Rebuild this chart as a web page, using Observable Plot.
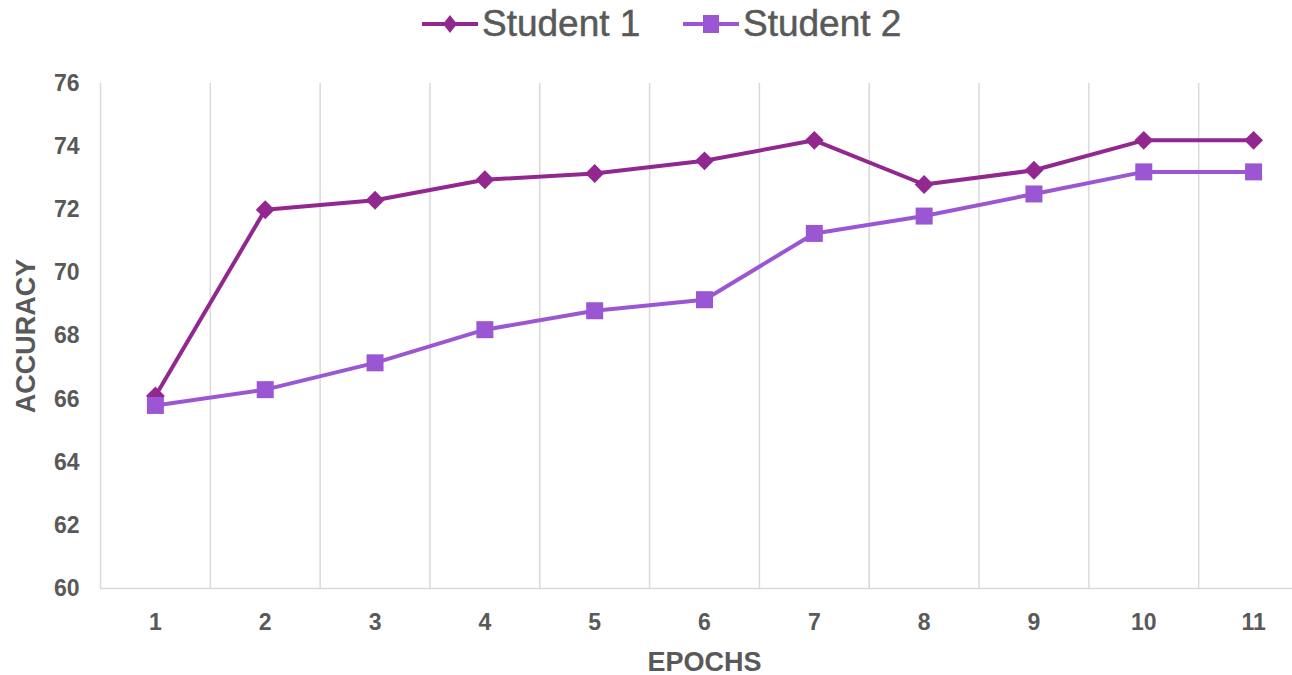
<!DOCTYPE html>
<html>
<head>
<meta charset="utf-8">
<script src="https://cdn.jsdelivr.net/npm/d3@7"></script>
<script src="https://cdn.jsdelivr.net/npm/@observablehq/plot@0.6"></script>
<style>
  html, body { margin: 0; padding: 0; background: #fff; }
  body { width: 1292px; height: 675px; overflow: hidden; position: relative; font-family: "Liberation Sans", Arial, sans-serif; }
  #legend { position: absolute; left: 0; top: 0; width: 1292px; height: 50px; }
  .item { position: absolute; top: 0; height: 48px; display: flex; align-items: center; font-size: 37px; color: #595959; -webkit-text-stroke: 0.5px #595959; }
  .item svg { margin-right: 4px; }
  #chart { position: absolute; left: 0; top: 50px; width: 1310px; }
  #chart svg { max-width: none !important; }
</style>
</head>
<body>
<div id="legend"></div>
<div id="chart"></div>
<script>
// Accuracy per training epoch for two students
const epochs = [1, 2, 3, 4, 5, 6, 7, 8, 9, 10, 11];
const student1 = [66.1, 72.0, 72.3, 72.95, 73.15, 73.55, 74.2, 72.8, 73.25, 74.2, 74.2];
const student2 = [65.8, 66.3, 67.15, 68.2, 68.8, 69.15, 71.25, 71.8, 72.5, 73.2, 73.2];
const seriesNames = ["Student 1", "Student 2"];
const seriesColors = ["#922790", "#9B57D3"];
const yTicks = [60, 62, 64, 66, 68, 70, 72, 74, 76];
const bandEdges = d3.range(0.5, 12, 1);

const s1 = epochs.map((e, i) => ({epoch: e, acc: student1[i]}));
const s2 = epochs.map((e, i) => ({epoch: e, acc: student2[i]}));

const chart = Plot.plot({
  width: 1310,
  height: 625,
  marginLeft: 100,
  marginRight: 2,
  marginTop: 33,
  marginBottom: 87,
  style: {fontFamily: "'Liberation Sans', Arial, sans-serif", color: "#595959", background: "#fff", maxWidth: "none"},
  x: {type: "linear", domain: [0.5, 11.5]},
  y: {domain: [60, 76]},
  marks: [
    Plot.ruleX(bandEdges, {stroke: "#d9d9d9", strokeWidth: 1.5}),
    Plot.ruleY([60], {stroke: "#d9d9d9", strokeWidth: 1.5}),
    Plot.axisY({ticks: yTicks, tickSize: 0, tickPadding: 21, fontSize: 23, fontWeight: "bold",
      label: "ACCURACY", labelAnchor: "center", labelOffset: 85, labelArrow: "none"}),
    Plot.axisX({ticks: epochs, tickSize: 0, tickPadding: 25, fontSize: 23, fontWeight: "bold",
      label: "EPOCHS", labelAnchor: "center", labelOffset: 82, labelArrow: "none"}),
    Plot.line(s1, {x: "epoch", y: "acc", stroke: seriesColors[0], strokeWidth: 4}),
    Plot.line(s2, {x: "epoch", y: "acc", stroke: seriesColors[1], strokeWidth: 4}),
    Plot.dot(s1, {x: "epoch", y: "acc", fill: seriesColors[0], symbol: "diamond2", r: 8.5}),
    Plot.dot(s2, {x: "epoch", y: "acc", fill: seriesColors[1], symbol: "square", r: 9.6})
  ]
});
// axis title styling
chart.querySelectorAll("[aria-label='y-axis label'] text, [aria-label='x-axis label'] text").forEach(t => {
  t.setAttribute("font-size", "27");
  t.setAttribute("font-weight", "bold");
});
document.getElementById("chart").appendChild(chart);

// legend row
const legend = document.getElementById("legend");
const legendLeft = [422, 683];
seriesNames.forEach((name, i) => {
  const item = document.createElement("div");
  item.className = "item";
  item.style.left = legendLeft[i] + "px";
  const svg = d3.create("svg").attr("width", 56).attr("height", 48);
  svg.append("line").attr("x1", 0).attr("x2", 56).attr("y1", 24).attr("y2", 24)
    .attr("stroke", seriesColors[i]).attr("stroke-width", 4);
  const shape = i === 0
    ? "M0,-9L7,0L0,9L-7,0Z"
    : "M-8,-9H8V9H-8Z";
  svg.append("path").attr("transform", "translate(28,24)").attr("d", shape).attr("fill", seriesColors[i]);
  item.appendChild(svg.node());
  const label = document.createElement("span");
  label.textContent = name;
  item.appendChild(label);
  legend.appendChild(item);
});
</script>
</body>
</html>
